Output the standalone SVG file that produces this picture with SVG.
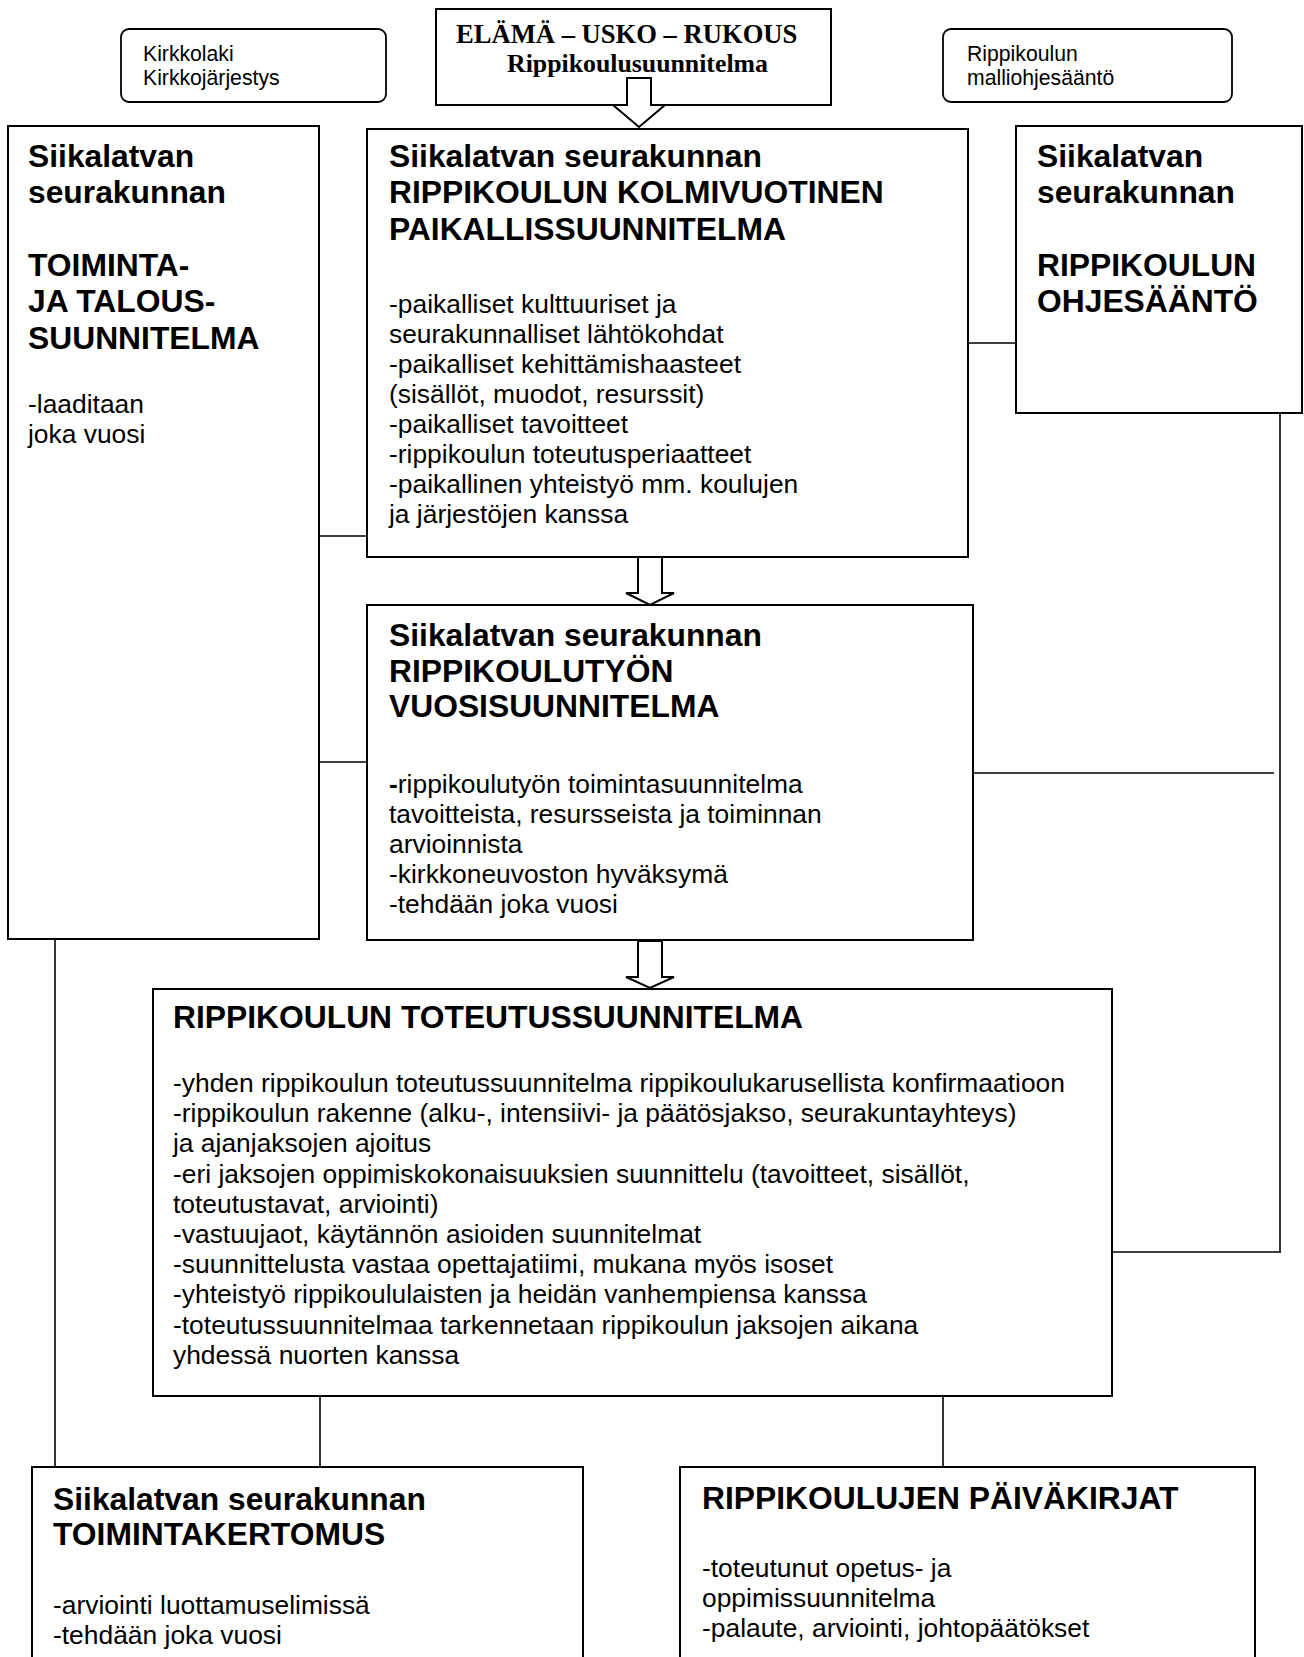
<svg xmlns="http://www.w3.org/2000/svg" width="1304" height="1657" viewBox="0 0 1304 1657">
<style>
.box{fill:#fff;stroke:#000;stroke-width:2}
.rbox{fill:#fff;stroke:#000;stroke-width:1.8}
.ln{stroke:#000;stroke-width:1.6;fill:none}
.arr{fill:#fff;stroke:#000;stroke-width:2;stroke-linejoin:miter}
.t{font-family:"Liberation Sans",Arial,sans-serif;font-size:31.8px;font-weight:bold;fill:#000}
.b{font-family:"Liberation Sans",Arial,sans-serif;font-size:26.4px;fill:#000}
.s{font-family:"Liberation Sans",Arial,sans-serif;font-size:21.2px;fill:#000}
.tm{font-family:"Liberation Serif","Times New Roman",serif;font-weight:bold;fill:#000}
</style>
<rect width="1304" height="1657" fill="#fff"/>
<g id="kirkkolaki">
<rect class="rbox" x="121" y="29" width="265" height="73" rx="8"/>
<text class="s" x="143" y="61">Kirkkolaki</text>
<text class="s" x="143" y="85">Kirkkojärjestys</text>
</g>
<g id="malliohjesaanto">
<rect class="rbox" x="943" y="29" width="289" height="73" rx="8"/>
<text class="s" x="967" y="61">Rippikoulun</text>
<text class="s" x="967" y="85">malliohjesääntö</text>
</g>
<g id="elama">
<rect class="box" x="436" y="9" width="395" height="96"/>
<text class="tm" x="456" y="43" font-size="26.6">ELÄMÄ – USKO – RUKOUS</text>
<text class="tm" x="507" y="72" font-size="25.8">Rippikoulusuunnitelma</text>
</g>
<g id="toiminta">
<rect class="box" x="8" y="126" width="311" height="813"/>
<text class="t" x="28" y="167">Siikalatvan</text>
<text class="t" x="28" y="203">seurakunnan</text>
<text class="t" x="28" y="276">TOIMINTA-</text>
<text class="t" x="28" y="312">JA TALOUS-</text>
<text class="t" x="28" y="349">SUUNNITELMA</text>
<text class="b" x="28" y="413">-laaditaan</text>
<text class="b" x="28" y="443">joka vuosi</text>
</g>
<g id="paikallis">
<rect class="box" x="367" y="129" width="601" height="428"/>
<text class="t" x="389" y="167">Siikalatvan seurakunnan</text>
<text class="t" x="389" y="203">RIPPIKOULUN KOLMIVUOTINEN</text>
<text class="t" x="389" y="240">PAIKALLISSUUNNITELMA</text>
<text class="b" x="389" y="313">-paikalliset kulttuuriset ja</text>
<text class="b" x="389" y="343">seurakunnalliset lähtökohdat</text>
<text class="b" x="389" y="373">-paikalliset kehittämishaasteet</text>
<text class="b" x="389" y="403">(sisällöt, muodot, resurssit)</text>
<text class="b" x="389" y="433">-paikalliset tavoitteet</text>
<text class="b" x="389" y="463">-rippikoulun toteutusperiaatteet</text>
<text class="b" x="389" y="493">-paikallinen yhteistyö mm. koulujen</text>
<text class="b" x="389" y="523">ja järjestöjen kanssa</text>
</g>
<g id="ohjesaanto">
<rect class="box" x="1016" y="126" width="286" height="287"/>
<text class="t" x="1037" y="167">Siikalatvan</text>
<text class="t" x="1037" y="203">seurakunnan</text>
<text class="t" x="1037" y="276">RIPPIKOULUN</text>
<text class="t" x="1037" y="312">OHJESÄÄNTÖ</text>
</g>
<g id="vuosi">
<rect class="box" x="367" y="605" width="606" height="335"/>
<text class="t" x="389" y="646">Siikalatvan seurakunnan</text>
<text class="t" x="389" y="682">RIPPIKOULUTYÖN</text>
<text class="t" x="389" y="717">VUOSISUUNNITELMA</text>
<text class="b" x="389" y="793"><tspan font-weight="bold">-</tspan>rippikoulutyön toimintasuunnitelma</text>
<text class="b" x="389" y="823">tavoitteista, resursseista ja toiminnan</text>
<text class="b" x="389" y="853">arvioinnista</text>
<text class="b" x="389" y="883">-kirkkoneuvoston hyväksymä</text>
<text class="b" x="389" y="913">-tehdään joka vuosi</text>
</g>
<g id="toteutus">
<rect class="box" x="153" y="989" width="959" height="407"/>
<text class="t" x="173" y="1028">RIPPIKOULUN TOTEUTUSSUUNNITELMA</text>
<text class="b" x="173" y="1092">-yhden rippikoulun toteutussuunnitelma rippikoulukarusellista konfirmaatioon</text>
<text class="b" x="173" y="1122">-rippikoulun rakenne (alku-, intensiivi- ja päätösjakso, seurakuntayhteys)</text>
<text class="b" x="173" y="1152">ja ajanjaksojen ajoitus</text>
<text class="b" x="173" y="1183">-eri jaksojen oppimiskokonaisuuksien suunnittelu (tavoitteet, sisällöt,</text>
<text class="b" x="173" y="1213">toteutustavat, arviointi)</text>
<text class="b" x="173" y="1243">-vastuujaot, käytännön asioiden suunnitelmat</text>
<text class="b" x="173" y="1273">-suunnittelusta vastaa opettajatiimi, mukana myös isoset</text>
<text class="b" x="173" y="1303">-yhteistyö rippikoululaisten ja heidän vanhempiensa kanssa</text>
<text class="b" x="173" y="1334">-toteutussuunnitelmaa tarkennetaan rippikoulun jaksojen aikana</text>
<text class="b" x="173" y="1364">yhdessä nuorten kanssa</text>
</g>
<g id="kertomus">
<rect class="box" x="32" y="1467" width="551" height="220"/>
<text class="t" x="53" y="1510">Siikalatvan seurakunnan</text>
<text class="t" x="53" y="1545">TOIMINTAKERTOMUS</text>
<text class="b" x="53" y="1614">-arviointi luottamuselimissä</text>
<text class="b" x="53" y="1644">-tehdään joka vuosi</text>
</g>
<g id="paivakirjat">
<rect class="box" x="680" y="1467" width="575" height="220"/>
<text class="t" x="702" y="1509">RIPPIKOULUJEN PÄIVÄKIRJAT</text>
<text class="b" x="702" y="1577">-toteutunut opetus- ja</text>
<text class="b" x="702" y="1607">oppimissuunnitelma</text>
<text class="b" x="702" y="1637">-palaute, arviointi, johtopäätökset</text>
</g>
<g id="connectors">
<line class="ln" x1="319" y1="536" x2="367" y2="536"/>
<line class="ln" x1="319" y1="762" x2="367" y2="762"/>
<line class="ln" x1="968" y1="343" x2="1016" y2="343"/>
<line class="ln" x1="973" y1="773" x2="1274" y2="773"/>
<line class="ln" x1="1280" y1="413" x2="1280" y2="1252"/>
<line class="ln" x1="1112" y1="1252" x2="1281" y2="1252"/>
<line class="ln" x1="55" y1="939" x2="55" y2="1467"/>
<line class="ln" x1="320" y1="1396" x2="320" y2="1467"/>
<line class="ln" x1="943" y1="1396" x2="943" y2="1467"/>
<polygon class="arr" points="627,78 651,78 651,105 665,105 639,127 613,105 627,105"/>
<polygon class="arr" points="638,557 662,557 662,593 674,593 650,605 626,593 638,593"/>
<polygon class="arr" points="638,941 662,941 662,977 674,977 650,988 626,977 638,977"/>
</g>
</svg>
